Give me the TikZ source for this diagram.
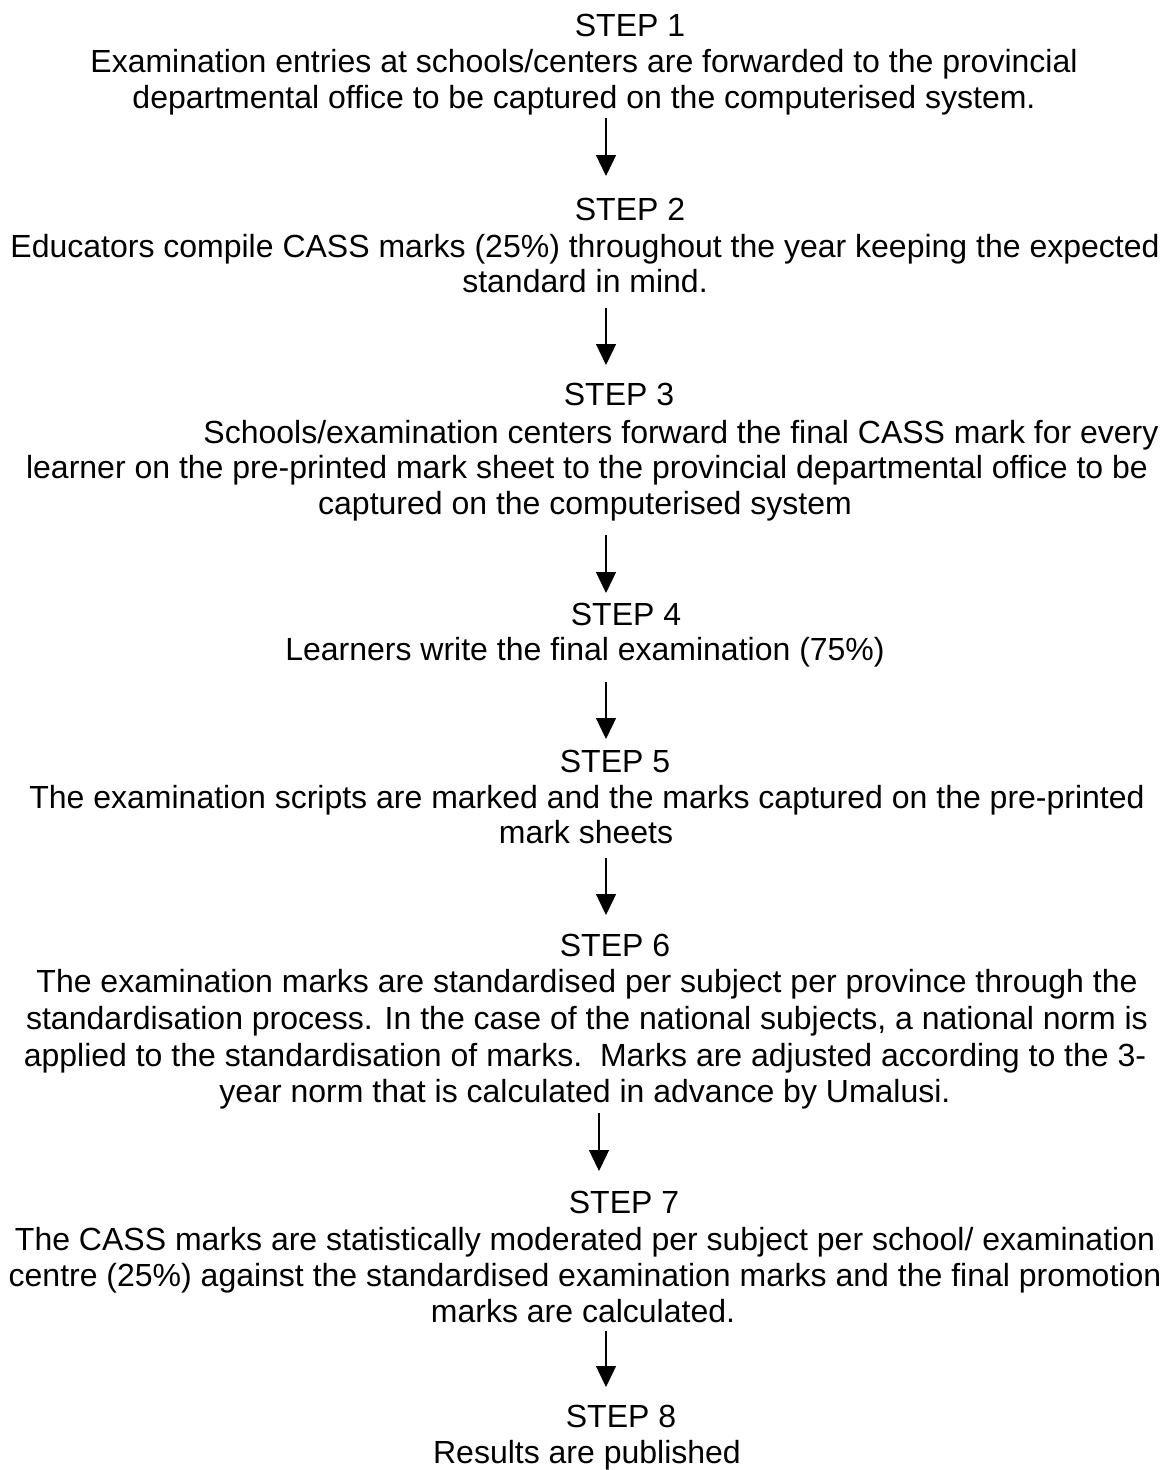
\documentclass[tikz,border=0pt]{standalone}
\usepackage{fontspec}
\setmainfont{Liberation Sans}
\usetikzlibrary{arrows.meta}
\begin{document}
\begin{tikzpicture}[x=1pt,y=-1pt,
  txt/.style={inner sep=0pt,anchor=base,font=\fontsize{32}{36}\selectfont},
  flowarrow/.style={line width=1.3pt,-{Triangle[length=21pt,width=20pt]}}]
\useasboundingbox (0,0) rectangle (1172,1470);
% STEP 1
\node[txt] (s1h) at (630,36) {STEP 1};
\node[txt] (s1a) at (584,72) {Examination entries at schools/centers are forwarded to the provincial};
\node[txt] (s1b) at (584,108) {departmental office to be captured on the computerised system.};
\coordinate (a1s) at (606,118);
\coordinate (a1e) at (606,176);
\draw[flowarrow] (a1s) -- (a1e);
% STEP 2
\node[txt] (s2h) at (630,220) {STEP 2};
\node[txt] (s2a) at (585,257) {Educators compile CASS marks (25\%) throughout the year keeping the expected};
\node[txt] (s2b) at (585,292) {standard in mind.};
\coordinate (a2s) at (606,308);
\coordinate (a2e) at (606,365);
\draw[flowarrow] (a2s) -- (a2e);
% STEP 3
\node[txt] (s3h) at (619,405) {STEP 3};
\node[txt] (s3a) at (681,443) {Schools/examination centers forward the final CASS mark for every};
\node[txt] (s3b) at (587,478) {learner on the pre-printed mark sheet to the provincial departmental office to be};
\node[txt] (s3c) at (585,514) {captured on the computerised system};
\coordinate (a3s) at (606,535);
\coordinate (a3e) at (606,593);
\draw[flowarrow] (a3s) -- (a3e);
% STEP 4
\node[txt] (s4h) at (626,625) {STEP 4};
\node[txt] (s4a) at (585,660) {Learners write the final examination (75\%)};
\coordinate (a4s) at (606,682);
\coordinate (a4e) at (606,739);
\draw[flowarrow] (a4s) -- (a4e);
% STEP 5
\node[txt] (s5h) at (615,772) {STEP 5};
\node[txt] (s5a) at (587,808) {The examination scripts are marked and the marks captured on the pre-printed};
\node[txt] (s5b) at (586,843) {mark sheets};
\coordinate (a5s) at (606,858);
\coordinate (a5e) at (606,915);
\draw[flowarrow] (a5s) -- (a5e);
% STEP 6
\node[txt] (s6h) at (615,956) {STEP 6};
\node[txt] (s6a) at (587,992) {The examination marks are standardised per subject per province through the};
\node[txt] (s6b) at (587,1029) {standardisation process. In the case of the national subjects, a national norm is};
\node[txt] (s6c) at (585,1066) {applied to the standardisation of marks.\ \ Marks are adjusted according to the 3-};
\node[txt] (s6d) at (585,1102) {year norm that is calculated in advance by Umalusi.};
\coordinate (a6s) at (599,1113);
\coordinate (a6e) at (599,1171);
\draw[flowarrow] (a6s) -- (a6e);
% STEP 7
\node[txt] (s7h) at (624,1213) {STEP 7};
\node[txt] (s7a) at (585,1250) {The CASS marks are statistically moderated per subject per school/ examination};
\node[txt] (s7b) at (585,1286) {centre (25\%) against the standardised examination marks and the final promotion};
\node[txt] (s7c) at (583,1322) {marks are calculated.};
\coordinate (a7s) at (606,1331);
\coordinate (a7e) at (606,1387);
\draw[flowarrow] (a7s) -- (a7e);
% STEP 8
\node[txt] (s8h) at (621,1427) {STEP 8};
\node[txt] (s8a) at (587,1463) {Results are published};
\end{tikzpicture}
\end{document}
